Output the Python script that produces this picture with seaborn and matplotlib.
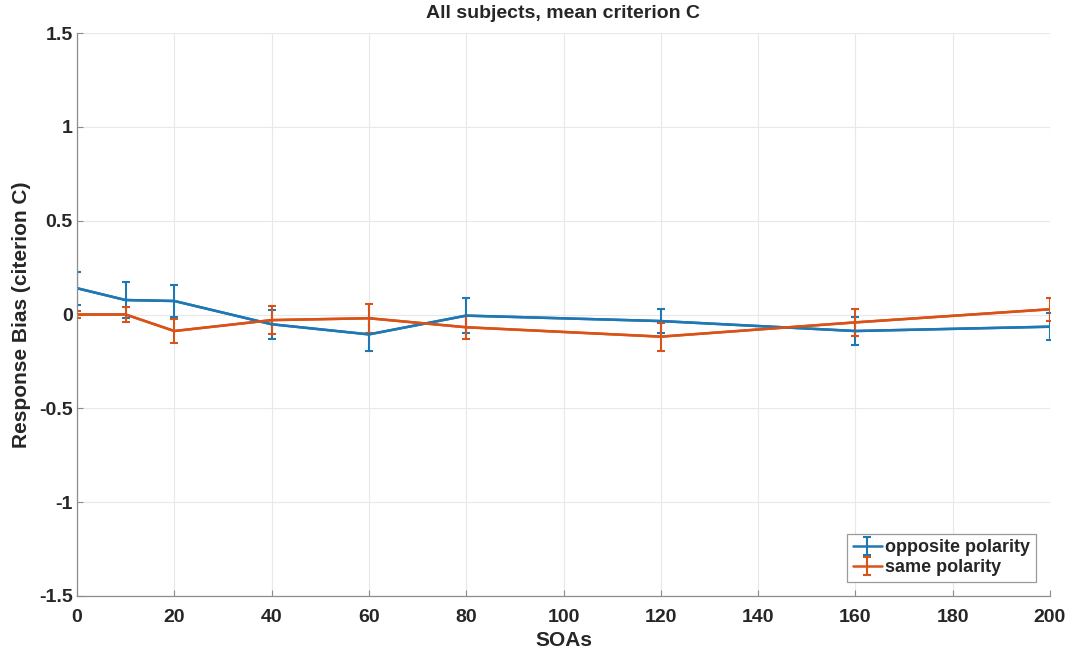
import matplotlib
matplotlib.use("Agg")
import matplotlib.pyplot as plt
import seaborn as sns
import pandas as pd
import numpy as np
from matplotlib.ticker import FuncFormatter

soas = [0, 10, 20, 40, 60, 80, 120, 160, 200]
opposite_mean = [0.14, 0.077, 0.072, -0.052, -0.106, -0.006, -0.035, -0.088, -0.065]
opposite_err = [0.088, 0.095, 0.085, 0.078, 0.09, 0.092, 0.063, 0.075, 0.072]
same_mean = [0.0, 0.0, -0.088, -0.03, -0.02, -0.068, -0.118, -0.042, 0.028]
same_err = [0.02, 0.04, 0.066, 0.075, 0.076, 0.06, 0.075, 0.07, 0.062]

series_names = ["opposite polarity", "same polarity"]
colors = ["#1f77b4", "#D95319"]

sns.set_theme(style="whitegrid")
plt.rcParams['font.family'] = ['Liberation Sans', 'DejaVu Sans']

df = pd.DataFrame({
    "SOA": soas * 2,
    "C": opposite_mean + same_mean,
    "err": opposite_err + same_err,
    "series": [series_names[0]] * len(soas) + [series_names[1]] * len(soas),
})

fig = plt.figure(figsize=(10.72, 6.51), dpi=100)
ax = fig.add_axes([77 / 1072, 1 - 596 / 651, (1050 - 77) / 1072, (596 - 33) / 651])

sns.lineplot(data=df, x="SOA", y="C", hue="series", palette=colors,
             ax=ax, legend=False, linewidth=1.8, errorbar=None)
for name, col in zip(series_names, colors):
    sub = df[df.series == name]
    ax.errorbar(sub.SOA, sub.C, yerr=sub.err, color=col, linewidth=1.8,
                elinewidth=1.5, capsize=3, capthick=1.5, label=name)

ax.set_xlim(0, 200)
ax.set_ylim(-1.5, 1.5)
ax.set_xticks(np.arange(0, 201, 20))
ax.set_yticks(np.arange(-1.5, 1.51, 0.5))
ax.yaxis.set_major_formatter(FuncFormatter(lambda v, p: f"{v:g}"))
ax.grid(True, color="#e8e8e8", linewidth=0.8)
ax.set_facecolor("white")
for s in ["top", "right"]:
    ax.spines[s].set_visible(False)
for s in ["left", "bottom"]:
    ax.spines[s].set_color("#8c8c8c")
    ax.spines[s].set_linewidth(0.9)

ax.tick_params(axis="both", direction="in", length=4, width=0.8, color="#8c8c8c",
               labelsize=14, labelcolor="#262626", left=True, bottom=True)
ax.tick_params(axis="y", pad=3)
ax.tick_params(axis="x", pad=9)
for lab in ax.get_xticklabels() + ax.get_yticklabels():
    lab.set_fontweight("bold")

ax.set_xlabel("SOAs", fontsize=15, fontweight="bold", color="#262626", labelpad=4)
ax.set_ylabel("Response Bias (citerion C)", fontsize=15, fontweight="bold", color="#262626", labelpad=6)
ax.set_title("All subjects, mean criterion C", fontsize=14, fontweight="bold", color="#262626", pad=11)

leg = ax.legend(loc="lower right", frameon=True, prop={"weight": "bold", "size": 13},
                fancybox=False, edgecolor="#9a9a9a", framealpha=1, borderpad=0.3,
                handlelength=1.6, handletextpad=0.2, labelspacing=0.15, borderaxespad=0.8)
leg.get_frame().set_linewidth(0.9)

fig.savefig("out.png", dpi=100, facecolor="white")
